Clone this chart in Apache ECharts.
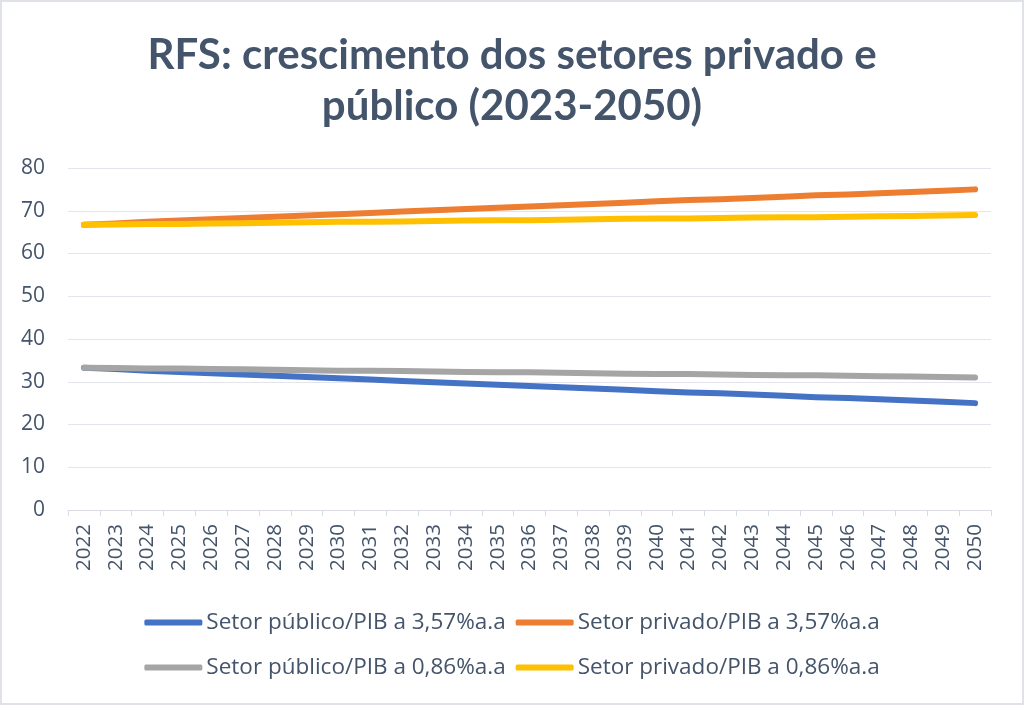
<!DOCTYPE html>
<html>
<head>
<meta charset="utf-8">
<script src="https://cdn.jsdelivr.net/npm/echarts@6/dist/echarts.min.js"></script>
<style>
html,body{margin:0;padding:0;background:#fff;}
#chart{width:1024px;height:705px;}
</style>
</head>
<body>
<div id="chart"></div>
<script>
const years = ['2022','2023','2024','2025','2026','2027','2028','2029','2030','2031','2032','2033','2034','2035','2036','2037','2038','2039','2040','2041','2042','2043','2044','2045','2046','2047','2048','2049','2050'];
const publico357 = [33.3,33.0,32.6,32.3,32.0,31.7,31.4,31.1,30.8,30.5,30.2,29.9,29.6,29.3,29.0,28.7,28.4,28.1,27.8,27.5,27.3,27.0,26.7,26.4,26.2,25.9,25.6,25.3,25.0];
const privado357 = [66.7,67.0,67.4,67.7,68.0,68.3,68.6,68.9,69.2,69.5,69.8,70.1,70.4,70.7,71.0,71.3,71.6,71.9,72.2,72.5,72.7,73.0,73.3,73.6,73.8,74.1,74.4,74.7,75.0];
const publico086 = [33.3,33.2,33.1,33.1,33.0,32.9,32.8,32.7,32.6,32.6,32.5,32.4,32.3,32.2,32.2,32.1,32.0,31.9,31.8,31.8,31.7,31.6,31.5,31.5,31.4,31.3,31.2,31.1,31.0];
const privado086 = [66.7,66.8,66.9,66.9,67.0,67.1,67.2,67.3,67.4,67.4,67.5,67.6,67.7,67.8,67.8,67.9,68.0,68.1,68.2,68.2,68.3,68.4,68.5,68.5,68.6,68.7,68.8,68.9,69.0];
const seriesNames = ['Setor público/PIB a 3,57%a.a','Setor privado/PIB a 3,57%a.a','Setor público/PIB a 0,86%a.a','Setor privado/PIB a 0,86%a.a'];
const colors = ['#4472C4','#ED7D31','#A5A5A5','#FFC000'];
const titleText = 'RFS: crescimento dos setores privado e\npúblico (2023-2050)';

const textColor = '#44546A';
const font = 'Open Sans';
const chart = echarts.init(document.getElementById('chart'), null, {renderer:'canvas'});
const dataSets = [publico357, privado357, publico086, privado086];
const legendCommon = {
  left: 'center',
  icon: 'roundRect',
  itemWidth: 58,
  itemHeight: 6,
  itemGap: 10,
  textStyle: {fontFamily: font, fontSize: 22.5, color: textColor, padding:[0,0,0,-1]}
};
chart.setOption({
  animation: false,
  color: colors,
  graphic: [{
    type: 'rect',
    shape: {x: 1, y: 1, width: 1022, height: 703},
    style: {fill: 'none', stroke: '#dfe3e8', lineWidth: 2},
    silent: true
  }],
  title: {
    text: titleText,
    left: 'center',
    top: 25,
    textStyle: {fontFamily: 'Lato', fontWeight: 'bold', fontSize: 42, color: textColor, lineHeight: 51}
  },
  legend: [
    Object.assign({top: 606, data: [seriesNames[0], seriesNames[1]]}, legendCommon),
    Object.assign({top: 651, data: [seriesNames[2], seriesNames[3]]}, legendCommon)
  ],
  grid: {left: 68, right: 33, top: 168, bottom: 195, containLabel: false},
  xAxis: {
    type: 'category',
    data: years,
    boundaryGap: true,
    axisLine: {lineStyle: {color: '#d9dde3', width: 1}},
    axisTick: {show: true, length: 6, lineStyle: {color: '#d9dde3'}},
    axisLabel: {rotate: 90, interval: 0, margin: 14, fontFamily: font, fontSize: 20.5, color: textColor}
  },
  yAxis: {
    type: 'value',
    min: 0, max: 80, interval: 10,
    axisLine: {show: false},
    axisTick: {show: false},
    splitLine: {lineStyle: {color: '#e2e6ec', width: 1}},
    axisLabel: {margin: 23, fontFamily: font, fontSize: 21, color: textColor}
  },
  series: dataSets.map((d, i) => ({
    name: seriesNames[i],
    type: 'line',
    data: d,
    showSymbol: false,
    symbol: 'none',
    smooth: false,
    lineStyle: {width: 6, color: colors[i], cap: 'round', join: 'round'},
    itemStyle: {color: colors[i]}
  }))
});
</script>
</body>
</html>
